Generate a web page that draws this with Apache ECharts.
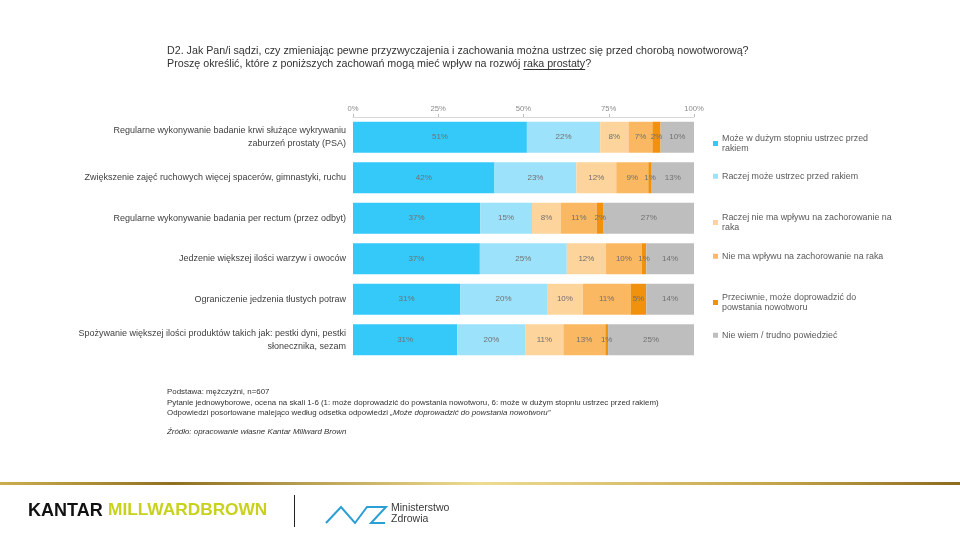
<!DOCTYPE html>
<html>
<head>
<meta charset="utf-8">
<script src="https://cdn.jsdelivr.net/npm/echarts@6/dist/echarts.min.js"></script>
<style>
html,body{margin:0;padding:0;background:#fff;}
#c{width:960px;height:540px;}
</style>
</head>
<body>
<div id="c"></div>
<script>
// ---- data ----
const categories = [
  'Regularne wykonywanie badanie krwi służące wykrywaniu\nzaburzeń prostaty (PSA)',
  'Zwiększenie zajęć ruchowych więcej spacerów, gimnastyki, ruchu',
  'Regularne wykonywanie badania per rectum (przez odbyt)',
  'Jedzenie większej ilości warzyw i owoców',
  'Ograniczenie jedzenia tłustych potraw',
  'Spożywanie większej ilości produktów takich jak: pestki dyni, pestki\nsłonecznika, sezam'
];
const seriesNames = [
  'Może w dużym stopniu ustrzec przed rakiem',
  'Raczej może ustrzec przed rakiem',
  'Raczej nie ma wpływu na zachorowanie na raka',
  'Nie ma wpływu na zachorowanie na raka',
  'Przeciwnie, może doprowadzić do powstania nowotworu',
  'Nie wiem / trudno powiedzieć'
];
// segment lengths as drawn in the picture (%)
const veryMuch   = [51, 41.5, 37.3, 37.2, 31.4, 30.6];
const ratherYes  = [21.5, 24, 15.2, 25.5, 25.5, 20];
const ratherNo   = [8.3, 11.7, 8.5, 11.5, 10.5, 11.1];
const noEffect   = [7, 9.4, 10.5, 10.5, 14, 12.3];
const opposite   = [2.4, 1, 2, 1.3, 4.6, 0.8];
const dontKnow   = [9.8, 12.4, 26.5, 14, 14, 25.2];
// percentages printed on the segments
const veryMuchLabels  = [51, 42, 37, 37, 31, 31];
const ratherYesLabels = [22, 23, 15, 25, 20, 20];
const ratherNoLabels  = [8, 12, 8, 12, 10, 11];
const noEffectLabels  = [7, 9, 11, 10, 11, 13];
const oppositeLabels  = [2, 1, 2, 1, 5, 1];
const dontKnowLabels  = [10, 13, 27, 14, 14, 25];
const xTicks = [0, 25, 50, 75, 100];

const values = [veryMuch, ratherYes, ratherNo, noEffect, opposite, dontKnow];
const labelSets = [veryMuchLabels, ratherYesLabels, ratherNoLabels, noEffectLabels, oppositeLabels, dontKnowLabels];
const colors = ['#35C9FA', '#9DE2FB', '#FDD49B', '#FBB862', '#F0920E', '#BEBEBE'];
const legendTops = [133, 171, 212, 251, 292, 330];
// legend line breaks as in the picture
const legendBreakAfter = ['przed', null, 'na zachorowanie na', null, 'doprowadzić do', null];

const FONT = '"Liberation Sans", Arial, sans-serif';

const titleLine1 = 'D2. Jak Pan/i sądzi, czy zmieniając pewne przyzwyczajenia i zachowania można ustrzec się przed chorobą nowotworową?';
const titlePre = 'Proszę określić, które z poniższych zachowań mogą mieć wpływ na rozwój ';
const titleUnder = 'raka prostaty';
const TITLE_SIZE = 10.7;
const TITLE_LEFT = 167, TITLE_TOP = 45, TITLE_LH = 13;

// measure the underlined words
const mctx = document.createElement('canvas').getContext('2d');
mctx.font = TITLE_SIZE + 'px ' + FONT;
const preW = mctx.measureText(titlePre).width;
const undW = mctx.measureText(titleUnder).width;

const chart = echarts.init(document.getElementById('c'), null, {renderer: 'canvas'});

const series = values.map((v, i) => ({
  name: seriesNames[i],
  type: 'bar',
  stack: 'total',
  barWidth: 31,
  data: v,
  itemStyle: {color: colors[i]},
  label: {
    show: true,
    position: 'inside',
    fontFamily: FONT,
    fontSize: 8,
    color: '#707070',
    formatter: p => labelSets[i][p.dataIndex] + '%'
  }
}));

const legends = seriesNames.map((n, i) => ({
  data: [n],
  left: 713,
  top: legendTops[i],
  orient: 'vertical',
  icon: 'rect',
  itemWidth: 5,
  itemHeight: 5,
  itemGap: 0,
  padding: 0,
  selectedMode: false,
  formatter: name => {
    const b = legendBreakAfter[i];
    if (!b) return name;
    const k = name.indexOf(b) + b.length;
    return name.slice(0, k) + '\n' + name.slice(k).trim();
  },
  textStyle: {
    fontFamily: FONT,
    fontSize: 8.9,
    color: '#595959',
    lineHeight: 10.5,
    padding: [0, 0, 0, -1]
  }
}));

const option = {
  animation: false,
  backgroundColor: '#ffffff',
  color: colors,
  grid: {left: 353, right: 266, top: 117, height: 243},
  legend: legends,
  xAxis: {
    type: 'value',
    position: 'top',
    min: xTicks[0],
    max: xTicks[xTicks.length - 1],
    interval: xTicks[1] - xTicks[0],
    axisLine: {show: true, lineStyle: {color: '#d9d9d9', width: 1}},
    axisTick: {show: true, length: 3, lineStyle: {color: '#bfbfbf'}},
    axisLabel: {fontFamily: FONT, fontSize: 7.7, color: '#8c8c8c', margin: 4, formatter: '{value}%'},
    splitLine: {show: false}
  },
  yAxis: {
    type: 'category',
    inverse: true,
    data: categories,
    axisLine: {show: false},
    axisTick: {show: false},
    axisLabel: {fontFamily: FONT, fontSize: 9, color: '#404040', margin: 7, lineHeight: 13, align: 'right'}
  },
  series: series,
  graphic: [
    {
      type: 'text', left: TITLE_LEFT, top: TITLE_TOP,
      style: {
        text: titleLine1 + '\n' + titlePre + titleUnder + '?',
        fontFamily: FONT, fontSize: TITLE_SIZE, lineHeight: TITLE_LH, fill: '#333333'
      }
    },
    {
      type: 'line',
      shape: {x1: TITLE_LEFT + preW, y1: TITLE_TOP + 2 * TITLE_LH - 1.5, x2: TITLE_LEFT + preW + undW, y2: TITLE_TOP + 2 * TITLE_LH - 1.5},
      style: {stroke: '#333333', lineWidth: 1}
    },
    {
      type: 'text', left: 167, top: 388,
      style: {
        rich: {
          n: {fontFamily: FONT, fontSize: 7.9, fill: '#333333', lineHeight: 10.5},
          i: {fontFamily: FONT, fontSize: 7.9, fontStyle: 'italic', fill: '#333333', lineHeight: 10.5}
        },
        text: '{n|Podstawa: mężczyźni, n=607}\n' +
              '{n|Pytanie jednowyborowe, ocena na skali 1-6 (1: może doprowadzić do powstania nowotworu, 6: może w dużym stopniu ustrzec przed rakiem)}\n' +
              '{n|Odpowiedzi posortowane malejąco według odsetka odpowiedzi }{i|„Może doprowadzić do powstania nowotworu”}'
      }
    },
    {
      type: 'text', left: 167, top: 428,
      style: {
        text: 'Źródło: opracowanie własne Kantar Millward Brown',
        fontFamily: FONT, fontSize: 7.9, fontStyle: 'italic', fill: '#333333'
      }
    },
    {
      type: 'rect',
      shape: {x: 0, y: 482, width: 960, height: 3},
      style: {
        fill: new echarts.graphic.LinearGradient(0, 0, 1, 0, [
          {offset: 0, color: '#CDAE4E'},
          {offset: 0.18, color: '#8F7021'},
          {offset: 0.5, color: '#EEDC93'},
          {offset: 0.8, color: '#C6A64D'},
          {offset: 1, color: '#8D6B1E'}
        ])
      }
    },
    {
      type: 'text', left: 28, top: 502,
      style: {text: 'KANTAR', fontFamily: FONT, fontSize: 18, fontWeight: 'bold', fill: '#111111'}
    },
    {
      type: 'text', left: 108, top: 502,
      style: {text: 'MILLWARDBROWN', fontFamily: FONT, fontSize: 17.3, fontWeight: 'bold', fill: '#C8D21C'}
    },
    {
      type: 'line',
      shape: {x1: 294.5, y1: 495, x2: 294.5, y2: 527},
      style: {stroke: '#222222', lineWidth: 1}
    },
    {
      type: 'polyline',
      shape: {points: [[326, 523], [341, 507], [355, 523], [367, 507], [386, 507], [371, 523], [385, 523]]},
      style: {stroke: '#2A9FD6', lineWidth: 2, fill: null}
    },
    {
      type: 'text', left: 391, top: 503,
      style: {
        text: 'Ministerstwo\nZdrowia',
        fontFamily: FONT, fontSize: 10.5, lineHeight: 11, fill: '#3a3a3a'
      }
    }
  ]
};
chart.setOption(option);
</script>
</body>
</html>
